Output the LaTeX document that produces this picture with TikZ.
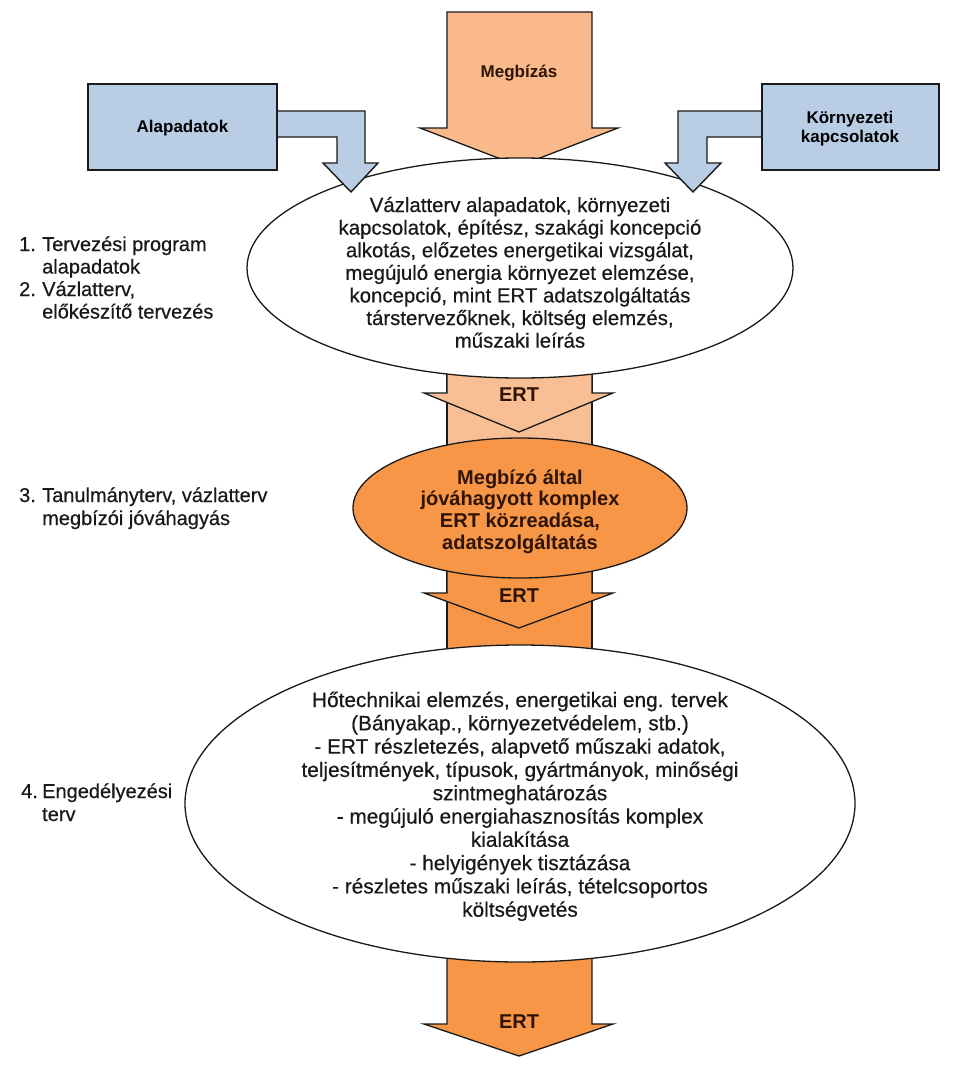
\documentclass[tikz,border=0pt]{standalone}
\usepackage{fontspec}
\setmainfont{Liberation Sans}
\newfontfamily\heavyfont{Liberation Sans}[FakeBold=0.5]
\usetikzlibrary{shapes.geometric}
\definecolor{lorange}{HTML}{FAB98A}
\definecolor{lorangeb}{HTML}{F9BF94}
\definecolor{dorange}{HTML}{F79646}
\definecolor{lblue}{HTML}{B9CDE5}
\definecolor{browntext}{HTML}{2E1404}
\definecolor{edge}{HTML}{1A1A1A}
\tikzset{
  arr/.style={draw=edge, line width=1.3pt, line join=miter},
  barr/.style={draw=edge, line width=1.4pt, fill=lblue, line join=miter},
  bbox/.style={draw=edge, line width=1.6pt, fill=lblue, rectangle, inner sep=0pt},
  ell/.style={draw=edge, line width=1.3pt, ellipse, inner sep=0pt},
  tA/.style={font=\heavyfont\fontsize{20.4}{24}\selectfont, text=black!90, anchor=base, inner sep=0pt},
  tB/.style={font=\bfseries\fontsize{20}{22}\selectfont, text=browntext, anchor=base, inner sep=0pt},
  tC/.style={font=\heavyfont\fontsize{20.8}{23}\selectfont, text=black!90, anchor=base, inner sep=0pt},
  lab/.style={font=\heavyfont\fontsize{20}{22}\selectfont, text=black!90, anchor=base west, inner sep=0pt},
  ertlbl/.style={font=\bfseries\fontsize{20}{22}\selectfont, text=browntext, anchor=base, inner sep=0pt},
  boxlbl/.style={font=\bfseries\fontsize{17}{19}\selectfont, text=black, anchor=base, inner sep=0pt}
}
\begin{document}
\begin{tikzpicture}[x=1pt,y=-1pt]
\fill[white] (0,0) rectangle (960,1068);
\useasboundingbox (0,0) rectangle (960,1068);

% Megbizas arrow
\filldraw[arr, fill=lorange] (447,12) -- (592,12) -- (592,128) -- (618,128) -- (519,166) -- (420,128) -- (447,128) -- cycle;
\node[boxlbl, text=browntext] (megb) at (519,77) {Megbízás};

% ERT 1
\filldraw[arr, fill=lorangeb] (447,360) rectangle (592,452);
\filldraw[arr, fill=lorangeb] (447,360) -- (592,360) -- (592,393) -- (613,393) -- (519,432) -- (424,393) -- (447,393) -- cycle;

% ERT 2
\filldraw[arr, fill=dorange] (447,560) rectangle (592,662);
\filldraw[arr, fill=dorange] (447,560) -- (592,560) -- (592,593) -- (613,593) -- (519,628) -- (424,593) -- (447,593) -- cycle;

% ERT 3
\filldraw[arr, fill=dorange] (447,940) -- (592,940) -- (592,1024) -- (613,1024) -- (519,1056) -- (424,1024) -- (447,1024) -- cycle;

% ellipses
\node[ell, fill=white, minimum width=546pt, minimum height=220pt] (e1) at (520,268) {};
\node[ell, fill=dorange, minimum width=334pt, minimum height=140pt] (e2) at (520,508) {};
\node[ell, fill=white, minimum width=670pt, minimum height=317pt] (e3) at (520,803.5) {};

% ERT labels
\node[ertlbl] (ert1) at (519,401) {ERT};
\node[ertlbl] (ert2) at (519,602) {ERT};
\node[ertlbl] (ert3) at (519,1028) {ERT};

% blue bent arrows
\filldraw[barr] (277,111) -- (365,111) -- (365,163) -- (378,163) -- (351,192) -- (323,163) -- (337,163) -- (337,137) -- (277,137) -- cycle;
\filldraw[barr] (762,111) -- (678,111) -- (678,163) -- (665,163) -- (693,192) -- (721,163) -- (707,163) -- (707,137) -- (762,137) -- cycle;

% blue boxes
\node[bbox, minimum width=189pt, minimum height=86pt] (alap) at (182.5,127) {};
\node[bbox, minimum width=177pt, minimum height=86pt] (korny) at (850.5,127) {};
\node[boxlbl] (alapt) at (182.5,132) {Alapadatok};
\node[boxlbl] (kornyt1) at (850,123) {Környezeti};
\node[boxlbl] (kornyt2) at (850,142) {kapcsolatok};

% ellipse 1 text
\foreach \t [count=\i] in {{Vázlatterv alapadatok, környezeti},{kapcsolatok, építész, szakági koncepció},{alkotás, előzetes energetikai vizsgálat,},{megújuló energia környezet elemzése,},{koncepció, mint ERT adatszolgáltatás},{társtervezőknek, költség elemzés,},{műszaki leírás}}
  {\node[tA] (ea\i) at (520,{212+22.6*(\i-1)}) {\t};}

% ellipse 2 text
\foreach \t [count=\i] in {{Megbízó által},{jóváhagyott komplex},{ERT közreadása,},{adatszolgáltatás}}
  {\node[tB] (eb\i) at (520,{484+21.7*(\i-1)}) {\t};}

% ellipse 3 text
\foreach \t [count=\i] in {{Hőtechnikai elemzés, energetikai eng. tervek},{(Bányakap., környezetvédelem, stb.)},{- ERT részletezés, alapvető műszaki adatok,},{teljesítmények, típusok, gyártmányok, minőségi},{szintmeghatározás},{- megújuló energiahasznosítás komplex},{kialakítása},{- helyigények tisztázása},{- részletes műszaki leírás, tételcsoportos},{költségvetés}}
  {\node[tC] (ec\i) at (520,{707+23.3*(\i-1)}) {\t};}

% left labels
\node[lab] (n1) at (19,251) {1.};
\node[lab] (l1a) at (42,251) {Tervezési program};
\node[lab] (l1b) at (42,273.5) {alapadatok};
\node[lab] (n2) at (19,296) {2.};
\node[lab] (l2a) at (42,296) {Vázlatterv,};
\node[lab] (l2b) at (42,318.5) {előkészítő tervezés};
\node[lab] (n3) at (19,502) {3.};
\node[lab] (l3a) at (42,502) {Tanulmányterv, vázlatterv};
\node[lab] (l3b) at (42,525) {megbízói jóváhagyás};
\node[lab] (n4) at (21,798) {4.};
\node[lab] (l4a) at (42,798) {Engedélyezési};
\node[lab] (l4b) at (42,821) {terv};
\end{tikzpicture}
\end{document}
